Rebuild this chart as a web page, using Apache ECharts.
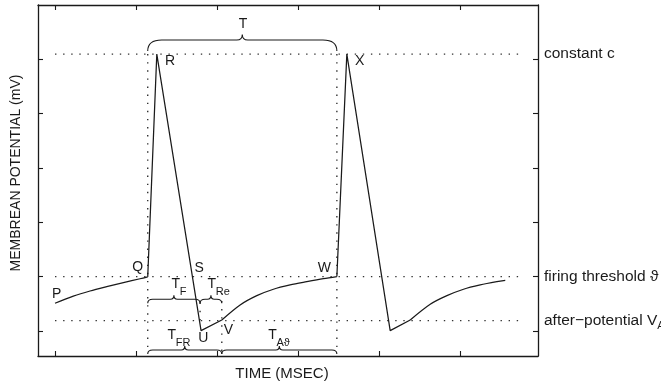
<!DOCTYPE html>
<html>
<head>
<meta charset="utf-8">
<script src="https://cdn.jsdelivr.net/npm/echarts@6/dist/echarts.min.js"></script>
<style>html,body{margin:0;padding:0;background:#fff}#c{width:661px;height:386px}</style>
</head>
<body>
<div id="c"></div>
<script>
// ---- data ----
const timeTicks = [0, 10, 20, 30, 40, 50];
const mvTicks = [-70, -60, -50, -40, -30, -20];
const levelNames = ['constant c', 'firing threshold \u03D1', 'after\u2212potential V'];
const levelSubs = ['', '', 'A'];
const levelValues = [-19.1, -60, -68.1];
const levelFrom = 0, levelTo = 57.65;

const restT = [0, 2.26, 4.32, 6.38, 8.44, 10.49, 11.44];
const restV = [-64.9, -63.6, -62.65, -61.85, -61.1, -60.4, -60.05];
const spike1T = [11.44, 12.56, 18.02, 20.58];
const spike1V = [-60.05, -19.1, -69.94, -67.98];
const recov1T = [20.58, 22.84, 24.9, 26.95, 29.01, 31.07, 33.12, 34.78];
const recov1V = [-67.98, -65.22, -63.51, -62.33, -61.54, -60.94, -60.38, -60.0];
const spike2T = [34.78, 36.01, 41.36, 43.83];
const spike2V = [-60.0, -19.1, -69.94, -67.98];
const recov2T = [43.83, 46.3, 48.36, 50.41, 52.47, 54.53, 55.56];
const recov2V = [-67.98, -65.09, -63.51, -62.33, -61.54, -60.94, -60.7];

const guideX = [11.44, 34.78, 20.58, 17.9];
const guideTop = [-19.1, -19.1, -63.0, -64.8];
const guideBottom = [-74.04, -74.04, -74.04, -68.1];

const pointNames = ['P', 'Q', 'R', 'S', 'U', 'V', 'W', 'X'];
const pointT = [0.2, 10.2, 14.2, 17.8, 18.3, 21.4, 33.25, 37.6];
const pointV = [-63.25, -58.2, -20.4, -58.4, -71.3, -69.8, -58.5, -20.4];

const braceStart = [11.44, 11.44, 17.9, 11.44, 20.58];
const braceEnd = [34.78, 17.9, 20.58, 20.58, 34.78];
const braceLevel = [-16.51, -64.17, -64.17, -73.49, -73.49];
const braceMain = ['T', 'T', 'T', 'T', 'T'];
const braceSub = ['', 'F', 'Re', 'FR', 'A\u03D1'];
const braceLabelT = [23.21, 14.9, 19.35, 14.41, 26.83];

// ---- chart ----
const FONT = "'Liberation Sans', Arial, Helvetica, sans-serif";
const INK = '#1a1a1a';
const chart = echarts.init(document.getElementById('c'), null, {renderer: 'canvas'});

function zip(a, b) { return a.map((v, i) => [v, b[i]]); }

const dotStyle = {color: '#333', width: 1.4, type: [1.4, 6.7], cap: 'butt'};
const series = [];

levelValues.forEach((lv) => {
  series.push({type: 'line', data: [[levelFrom, lv], [levelTo, lv]], symbol: 'none',
    lineStyle: dotStyle, silent: true, animation: false, z: 1});
});
guideX.forEach((gx, i) => {
  series.push({type: 'line', data: [[gx, guideTop[i]], [gx, guideBottom[i]]], symbol: 'none',
    lineStyle: dotStyle, silent: true, animation: false, z: 1});
});

const segs = [[restT, restV, true], [spike1T, spike1V, false], [recov1T, recov1V, true],
              [spike2T, spike2V, false], [recov2T, recov2V, true]];
segs.forEach(s => {
  series.push({type: 'line', data: zip(s[0], s[1]), symbol: 'none', smooth: s[2] ? 0.3 : false,
    lineStyle: {color: INK, width: 1.25}, animation: false, z: 3});
});

series.push({
  type: 'custom', animation: false, z: 4,
  encode: {x: 0, y: 1},
  data: pointNames.map((n, i) => [pointT[i], pointV[i], i]),
  renderItem: function (params, api) {
    const p = api.coord([api.value(0), api.value(1)]);
    return {type: 'text', style: {text: pointNames[api.value(2)], x: p[0], y: p[1], align: 'center',
      verticalAlign: 'middle', font: '14px ' + FONT, fill: INK}};
  }
});

series.push({
  type: 'custom', animation: false, z: 4,
  encode: {x: [0, 1, 3], y: 2},
  data: braceStart.map((s, i) => [s, braceEnd[i], braceLevel[i], braceLabelT[i], i]),
  renderItem: function (params, api) {
    const i = api.value(4);
    const big = i === 0;
    const p1 = api.coord([api.value(0), api.value(2)]);
    const p2 = api.coord([api.value(1), api.value(2)]);
    const lt = api.coord([api.value(3), api.value(2)]);
    const y0 = p1[1];
    const x1 = p1[0], x2 = p2[0];
    const tx = (x1 + x2) / 2;
    const d = big ? 11 : 4, r = big ? 14 : 5, t = big ? 5.5 : 3.5, th = big ? 5.5 : 4;
    const path = 'M' + x1 + ' ' + (y0 + d) +
      ' Q' + x1 + ' ' + y0 + ' ' + (x1 + r) + ' ' + y0 +
      ' L' + (tx - t) + ' ' + y0 +
      ' Q' + tx + ' ' + y0 + ' ' + tx + ' ' + (y0 - th) +
      ' Q' + tx + ' ' + y0 + ' ' + (tx + t) + ' ' + y0 +
      ' L' + (x2 - r) + ' ' + y0 +
      ' Q' + x2 + ' ' + y0 + ' ' + x2 + ' ' + (y0 + d);
    const children = [
      {type: 'path', shape: {pathData: path}, style: {stroke: INK, fill: null, lineWidth: 1.1}},
      {type: 'text', style: {text: braceMain[i], x: lt[0], y: y0 - (big ? 16 : 15), align: 'center',
        verticalAlign: 'middle', font: '14px ' + FONT, fill: INK}}
    ];
    if (braceSub[i]) {
      children.push({type: 'text', style: {text: braceSub[i], x: lt[0] + 4, y: y0 - 7, align: 'left',
        verticalAlign: 'middle', font: '11px ' + FONT, fill: INK}});
    }
    return {type: 'group', children: children};
  }
});

const baseAxis = {
  axisLine: {show: true, onZero: false, lineStyle: {color: INK, width: 1.3}},
  axisLabel: {show: false},
  splitLine: {show: false}
};
const tickStyle = {color: INK, width: 1.1};

chart.setOption({
  animation: false,
  grid: {left: 38, right: 123, top: 5, bottom: 30, containLabel: false, outerBoundsMode: 'none'},
  xAxis: [
    Object.assign({}, baseAxis, {type: 'value', position: 'bottom', min: -2.1, max: 59.6,
      axisTick: {show: true, inside: true, length: 5, customValues: timeTicks, lineStyle: tickStyle}}),
    Object.assign({}, baseAxis, {type: 'value', position: 'top', min: -2.1, max: 59.6,
      axisTick: {show: true, inside: true, length: 5, customValues: timeTicks, lineStyle: tickStyle}})
  ],
  yAxis: [
    Object.assign({}, baseAxis, {type: 'value', position: 'left', min: -74.6, max: -10.07,
      axisTick: {show: true, inside: true, length: 5, customValues: mvTicks, lineStyle: tickStyle}}),
    Object.assign({}, baseAxis, {type: 'value', position: 'right', min: -74.6, max: -10.07,
      axisTick: {show: true, inside: true, length: 5, customValues: mvTicks, lineStyle: tickStyle},
      axisLabel: {show: true, inside: false, margin: 6, customValues: levelValues,
        formatter: function (v) {
          let k = 0, best = 1e9;
          levelValues.forEach((lv, j) => { if (Math.abs(lv - v) < best) { best = Math.abs(lv - v); k = j; } });
          return levelSubs[k] ? '{m|' + levelNames[k] + '}{s|' + levelSubs[k] + '}' : '{m|' + levelNames[k] + '}';
        },
        rich: {
          m: {fontSize: 15.5, fontFamily: FONT, color: INK},
          s: {fontSize: 11, fontFamily: FONT, color: INK, padding: [10, 0, 0, 0]}
        }
      }})
  ],
  graphic: [
    {type: 'text', x: 16, y: 173, rotation: Math.PI / 2,
      style: {text: 'MEMBREAN POTENTIAL (mV)', align: 'center', verticalAlign: 'middle',
        font: '14px ' + FONT, fill: INK}},
    {type: 'text', x: 282, y: 374,
      style: {text: 'TIME (MSEC)', align: 'center', verticalAlign: 'middle',
        font: '15px ' + FONT, fill: INK}}
  ],
  series: series
});
</script>
</body>
</html>
